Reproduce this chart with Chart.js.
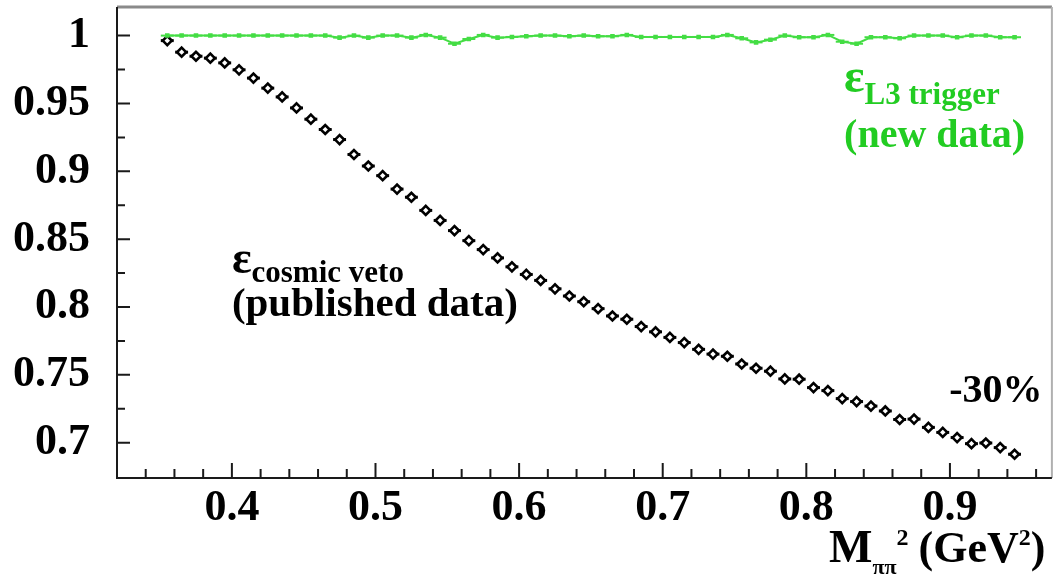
<!DOCTYPE html>
<html>
<head>
<meta charset="utf-8">
<script src="https://cdn.jsdelivr.net/npm/chart.js@4.4.1/dist/chart.umd.min.js"></script>
<style>
	body { margin: 0; background: #fff; }
	#wrap { width: 1059px; height: 579px; }
</style>
</head>
<body>
<div id="wrap"><canvas id="myChart" width="1059" height="579"></canvas></div>
<script>
// M_pipi^2 bins (GeV^2)
const massBins = [0.355, 0.365, 0.375, 0.385, 0.395, 0.405, 0.415, 0.425, 0.435, 0.445,
	0.455, 0.465, 0.475, 0.485, 0.495, 0.505, 0.515, 0.525, 0.535, 0.545,
	0.555, 0.565, 0.575, 0.585, 0.595, 0.605, 0.615, 0.625, 0.635, 0.645,
	0.655, 0.665, 0.675, 0.685, 0.695, 0.705, 0.715, 0.725, 0.735, 0.745,
	0.755, 0.765, 0.775, 0.785, 0.795, 0.805, 0.815, 0.825, 0.835, 0.845,
	0.855, 0.865, 0.875, 0.885, 0.895, 0.905, 0.915, 0.925, 0.935, 0.945];

// eps cosmic veto (published data)
const cosmicVeto = [0.9963, 0.9878, 0.9848, 0.9834, 0.9799, 0.9748, 0.9687, 0.9613, 0.9548, 0.9467,
	0.9384, 0.9308, 0.9234, 0.9124, 0.9039, 0.8968, 0.8869, 0.8809, 0.8712, 0.8638,
	0.8563, 0.8489, 0.8423, 0.8362, 0.8296, 0.8240, 0.8196, 0.8134, 0.8081, 0.8039,
	0.7988, 0.7934, 0.7910, 0.7856, 0.7817, 0.7776, 0.7738, 0.7688, 0.7653, 0.7637,
	0.7580, 0.7549, 0.7527, 0.7470, 0.7468, 0.7406, 0.7384, 0.7325, 0.7303, 0.7270,
	0.7234, 0.7171, 0.7174, 0.7113, 0.7076, 0.7038, 0.6993, 0.6998, 0.6964, 0.6915];

// eps L3 trigger (new data)
const l3Trigger = [1.0, 1.0, 1.0, 1.0, 1.0, 1.0, 1.0, 1.0, 1.0, 1.0,
	1.0, 1.0, 0.9985, 1.0, 0.9985, 1.0, 1.0, 0.9985, 1.0005, 0.9985,
	0.994, 0.9975, 1.0005, 0.9985, 0.999, 0.9995, 1.0, 1.0, 0.9995, 1.0,
	0.9995, 0.9995, 1.0005, 0.999, 0.999, 0.999, 0.999, 0.999, 0.999, 1.0005,
	0.998, 0.995, 0.997, 1.0, 0.9988, 0.9988, 1.0005, 0.9955, 0.994, 0.9988,
	0.9988, 0.998, 1.0, 1.0, 1.0, 0.9988, 1.0, 1.0, 0.9988, 0.9988];

// ticks
const xTickValues = [0.4, 0.5, 0.6, 0.7, 0.8, 0.9];
const xTickLabels = ['0.4', '0.5', '0.6', '0.7', '0.8', '0.9'];
const xMinorTicks = [0.34, 0.36, 0.38, 0.42, 0.44, 0.46, 0.48, 0.52, 0.54, 0.56, 0.58,
	0.62, 0.64, 0.66, 0.68, 0.72, 0.74, 0.76, 0.78, 0.82, 0.84, 0.86, 0.88, 0.92, 0.94, 0.96];
const yTickValues = [0.7, 0.75, 0.8, 0.85, 0.9, 0.95, 1];
const yTickLabels = ['0.7', '0.75', '0.8', '0.85', '0.9', '0.95', '1'];
const yMinorTicks = [0.725, 0.775, 0.825, 0.875, 0.925, 0.975];

const SERIF = '"Liberation Serif", "Times New Roman", serif';
const GREEN_LINE = '#44dd44';
const GREEN_TEXT = '#22cc22';

// 텍스트 조각(아래첨자/위첨자 포함) 이어서 그리기
function drawRuns(ctx, x, y, runs, color) {
	ctx.fillStyle = color;
	ctx.textAlign = 'left';
	ctx.textBaseline = 'alphabetic';
	runs.forEach(function(r) {
		ctx.font = 'bold ' + r[1] + 'px ' + SERIF;
		ctx.fillText(r[0], x, y + r[2]);
		x += ctx.measureText(r[0]).width + (r[3] || 0);
	});
}

// horizontal bin-width bars under the markers
const binBars = {
	id: 'binBars',
	beforeDatasetsDraw(chart) {
		const ctx = chart.ctx;
		const xs = chart.scales.x;
		ctx.save();
		chart.data.datasets.forEach(function(ds, di) {
			const meta = chart.getDatasetMeta(di);
			ctx.strokeStyle = ds.borderColor;
			ctx.lineWidth = ds.barWidth;
			meta.data.forEach(function(pt, i) {
				const x = ds.data[i].x;
				ctx.beginPath();
				ctx.moveTo(xs.getPixelForValue(x - 0.0045), pt.y);
				ctx.lineTo(xs.getPixelForValue(x + 0.0045), pt.y);
				ctx.stroke();
			});
		});
		ctx.restore();
	}
};

// frame, inside ticks and annotations
const frameAndText = {
	id: 'frameAndText',
	afterDraw(chart) {
		const ctx = chart.ctx;
		const a = chart.chartArea;
		const xs = chart.scales.x;
		const ys = chart.scales.y;
		ctx.save();
		// top / right frame (gray)
		ctx.strokeStyle = '#8a8a8a';
		ctx.lineWidth = 3;
		ctx.beginPath();
		ctx.moveTo(a.left, a.top);
		ctx.lineTo(a.right, a.top);
		ctx.stroke();
		ctx.strokeStyle = '#b0b0b0';
		ctx.lineWidth = 2;
		ctx.beginPath();
		ctx.moveTo(a.right, a.top);
		ctx.lineTo(a.right, a.bottom);
		ctx.stroke();
		// left / bottom axes
		ctx.strokeStyle = '#1a1a1a';
		ctx.lineWidth = 2;
		ctx.beginPath();
		ctx.moveTo(a.left, a.top);
		ctx.lineTo(a.left, a.bottom);
		ctx.lineTo(a.right, a.bottom);
		ctx.stroke();
		// ticks
		ctx.beginPath();
		xTickValues.forEach(function(v) {
			const px = xs.getPixelForValue(v);
			ctx.moveTo(px, a.bottom); ctx.lineTo(px, a.bottom - 15);
		});
		xMinorTicks.forEach(function(v) {
			const px = xs.getPixelForValue(v);
			ctx.moveTo(px, a.bottom); ctx.lineTo(px, a.bottom - 9);
		});
		yTickValues.forEach(function(v) {
			const py = ys.getPixelForValue(v);
			ctx.moveTo(a.left, py); ctx.lineTo(a.left + 13, py);
		});
		yMinorTicks.forEach(function(v) {
			const py = ys.getPixelForValue(v);
			ctx.moveTo(a.left, py); ctx.lineTo(a.left + 8, py);
		});
		ctx.stroke();

		// annotations (anchored in data coordinates)
		const cx = xs.getPixelForValue(0.4);
		drawRuns(ctx, cx, ys.getPixelForValue(0.8249), [['ε', 46, 0], ['cosmic veto', 31, 9]], '#000');
		drawRuns(ctx, cx, ys.getPixelForValue(0.7934), [['(published data)', 41, 0]], '#000');

		const gx = xs.getPixelForValue(0.8263);
		drawRuns(ctx, gx, ys.getPixelForValue(0.9584), [['ε', 48, 0], ['L3 trigger', 31, 12]], GREEN_TEXT);
		drawRuns(ctx, gx, ys.getPixelForValue(0.9181), [['(new data)', 40, 0]], GREEN_TEXT);

		drawRuns(ctx, xs.getPixelForValue(0.8995), ys.getPixelForValue(0.7297), [['-30%', 40, 0]], '#000');

		drawRuns(ctx, xs.getPixelForValue(0.8158), ys.getPixelForValue(0.6123),
			[['M', 46, 0], ['ππ', 22, 12], ['2', 24, -17, 10], ['(GeV', 44, 0], ['2', 24, -17], [')', 44, 0]], '#000');
		ctx.restore();
	}
};

const ctx = document.getElementById('myChart').getContext('2d');
const myChart = new Chart(ctx, {
	type: 'line',
	data: {
		datasets: [{
			label: 'L3 trigger',
			data: massBins.map((x, i) => ({ x: x, y: l3Trigger[i] })),
			borderColor: GREEN_LINE,
			backgroundColor: GREEN_LINE,
			borderWidth: 2,
			barWidth: 2,
			pointStyle: 'rect',
			pointRadius: 1.8,
			showLine: true
		}, {
			label: 'cosmic veto',
			data: massBins.map((x, i) => ({ x: x, y: cosmicVeto[i] })),
			borderColor: '#000',
			backgroundColor: '#fff',
			borderWidth: 2.6,
			barWidth: 3,
			pointStyle: 'rectRot',
			pointRadius: 4.5,
			showLine: false
		}]
	},
	options: {
		responsive: false,
		animation: false,
		layout: { padding: { top: 5, right: 3, left: 0, bottom: 0 } },
		plugins: {
			legend: { display: false },
			tooltip: { enabled: false }
		},
		scales: {
			x: {
				type: 'linear',
				min: 0.32,
				max: 0.971,
				grid: { display: false, drawTicks: false },
				border: { display: false },
				afterBuildTicks: s => { s.ticks = xTickValues.map(v => ({ value: v })); },
				afterFit: s => { s.height = 101; s.paddingLeft = 0; s.paddingRight = 0; },
				ticks: {
					autoSkip: false,
					maxRotation: 0,
					padding: 4,
					color: '#000',
					font: { family: SERIF, size: 44, weight: 'bold' },
					callback: (v, i) => xTickLabels[i]
				}
			},
			y: {
				type: 'linear',
				min: 0.674,
				max: 1.021,
				grid: { display: false, drawTicks: false },
				border: { display: false },
				afterBuildTicks: s => { s.ticks = yTickValues.map(v => ({ value: v })); },
				afterFit: s => { s.width = 117; s.paddingTop = 0; s.paddingBottom = 0; },
				ticks: {
					autoSkip: false,
					padding: 27,
					color: '#000',
					font: { family: SERIF, size: 44, weight: 'bold' },
					callback: (v, i) => yTickLabels[i]
				}
			}
		}
	},
	plugins: [binBars, frameAndText]
});
</script>
</body>
</html>
